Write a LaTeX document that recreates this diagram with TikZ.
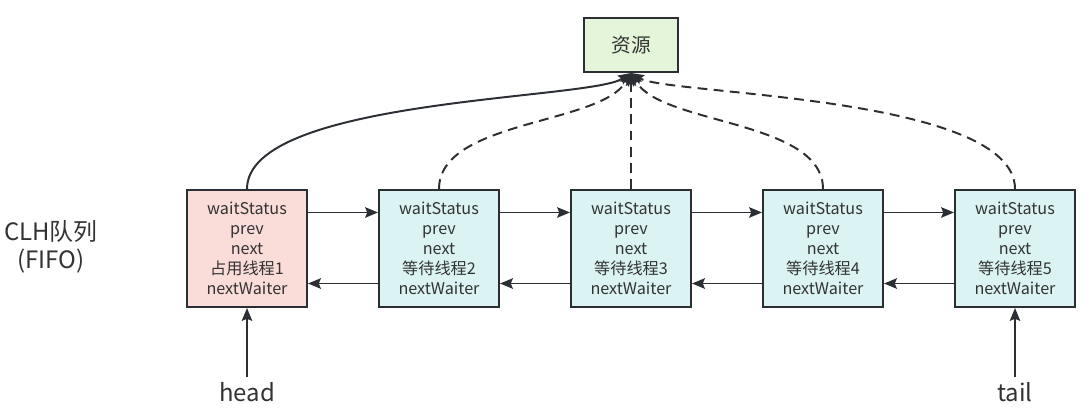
\documentclass[tikz,border=0pt]{standalone}
\usepackage{fontspec}
\setmainfont{Noto Sans CJK SC}
\usetikzlibrary{arrows.meta}

\definecolor{lineclr}{HTML}{2B2F33}
\definecolor{txtclr}{HTML}{333333}
\definecolor{ownfill}{HTML}{FADCD9}
\definecolor{waitfill}{HTML}{DBF4F3}
\definecolor{resfill}{HTML}{E4F5DA}

\tikzset{
  qnode/.style={draw=lineclr, line width=1.4pt, minimum width=3cm, minimum height=2.925cm,
    align=center, text=txtclr, font=\fontsize{11.5}{14.2}\selectfont, inner sep=0pt},
  arr/.style={line width=1.4pt, draw=lineclr, -{Stealth[length=3.2mm,width=2.6mm,inset=0.5mm]}},
  waitarr/.style={arr, dash pattern=on 7pt off 4.5pt},
  bigtxt/.style={text=txtclr, font=\fontsize{17}{20}\selectfont, align=center}
}

\begin{document}
\begin{tikzpicture}[x=0.025cm,y=-0.025cm]
    \useasboundingbox (0,0) rectangle (1090,420);
    % resource
    \node [draw=lineclr, line width=1.4pt, fill=resfill, minimum width=2.35cm, minimum height=1.35cm,
           text=txtclr, font=\fontsize{14}{16}\selectfont] (res) at (631,45) {资源};
    % queue nodes
    \node [qnode, fill=ownfill]  (n1) at (247,248.5) {waitStatus\\prev\\next\\占用线程1\\nextWaiter};
    \node [qnode, fill=waitfill] (n2) at (439,248.5) {waitStatus\\prev\\next\\等待线程2\\nextWaiter};
    \node [qnode, fill=waitfill] (n3) at (631,248.5) {waitStatus\\prev\\next\\等待线程3\\nextWaiter};
    \node [qnode, fill=waitfill] (n4) at (823,248.5) {waitStatus\\prev\\next\\等待线程4\\nextWaiter};
    \node [qnode, fill=waitfill] (n5) at (1015,248.5) {waitStatus\\prev\\next\\等待线程5\\nextWaiter};
    \node [bigtxt] (clh) at (51,247) {CLH队列\\(FIFO)};
    \node [bigtxt] (head) at (247,392) {head};
    \node [bigtxt] (tail) at (1015,392) {tail};
    % next / prev links
    \foreach \a/\b in {n1/n2,n2/n3,n3/n4,n4/n5}{
      \draw [arr] ([yshift=0.9cm]\a.east) -- ([yshift=0.9cm]\b.west);
      \draw [arr] ([yshift=-0.875cm]\b.west) -- ([yshift=-0.875cm]\a.east);
    }
    \draw [arr] (head) -- (n1);
    \draw [arr] (tail) -- (n5);
    % owner and waiters
    \draw [arr] (n1.north) .. controls (247,98) and (590,100) .. (res.south);
    \draw [waitarr] (n2.north) .. controls (439,120) and (600,125) .. (res.south);
    \draw [waitarr] (n3.north) -- (res.south);
    \draw [waitarr] (n4.north) .. controls (823,120) and (662,125) .. (res.south);
    \draw [waitarr] (n5.north) .. controls (1015,95) and (667,95) .. (res.south);
\end{tikzpicture}
\end{document}
